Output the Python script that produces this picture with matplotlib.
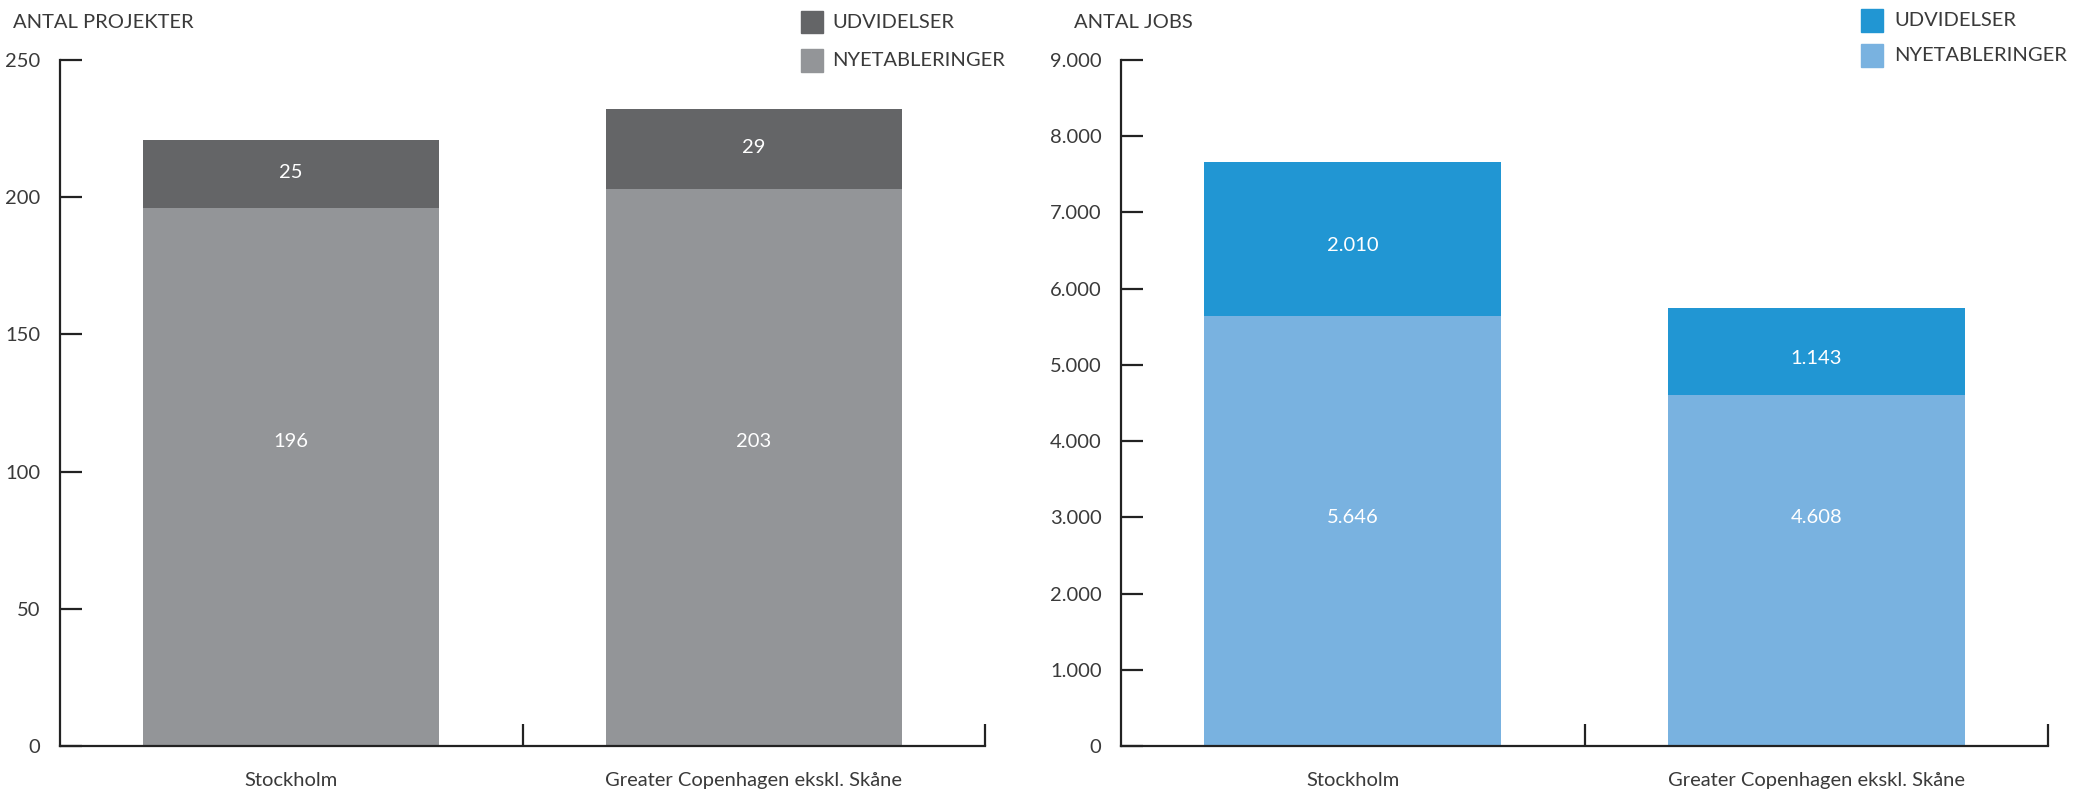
import numpy as np
import matplotlib
matplotlib.use("Agg")
import matplotlib.pyplot as plt
from matplotlib.patches import Rectangle
from matplotlib.ticker import FuncFormatter

plt.rcParams['font.family'] = ['Lato', 'DejaVu Sans']

# data
regions = ['Stockholm', 'Greater Copenhagen ekskl. Skåne']
proj_nye = [196, 203]
proj_udv = [25, 29]
jobs_nye = [5646, 4608]
jobs_udv = [2010, 1143]

txt_col = '#3a3a3a'
grey_dark = '#646567'
grey_light = '#939598'
blue_dark = '#2196d3'
blue_light = '#79b2e0'

W, H = 2074, 794
fig = plt.figure(figsize=(W / 100, H / 100), dpi=100)

def fx(px):
    return px / W

def fy(py):
    return 1 - py / H

def dk(v):
    return f"{int(v):,}".replace(',', '.')

def panel(left, right, nye, udv, c_dark, c_light, ymax, step, title, fmt,
          y_lab, top_shift):
    ax = fig.add_axes([fx(left), fy(746), fx(right - left), fy(60) - fy(746)])
    x = np.arange(len(regions))
    ax.bar(x, nye, width=0.64, color=c_light, linewidth=0)
    ax.bar(x, udv, width=0.64, bottom=nye, color=c_dark, linewidth=0)
    for i in range(len(regions)):
        # the lower labels sit at one common height in the original
        ax.text(x[i], y_lab, fmt(nye[i]), ha='center', va='center',
                color='white', fontsize=14.5)
        ax.text(x[i], nye[i] + udv[i] / 2 - top_shift, fmt(udv[i]),
                ha='center', va='center', color='white', fontsize=14.5)
    ax.set_xlim(-0.5, len(regions) - 0.5)
    ax.set_ylim(0, ymax)
    ax.set_yticks(np.arange(0, ymax + 1, step))
    ax.yaxis.set_major_formatter(FuncFormatter(lambda v, p: fmt(v)))
    ax.set_xticks(x)
    ax.set_xticklabels(regions)
    ax.set_xticks(np.arange(0.5, len(regions)), minor=True)
    ax.tick_params(axis='x', which='major', length=0, pad=19, labelsize=14.5,
                   labelcolor=txt_col)
    ax.tick_params(axis='x', which='minor', direction='in', length=16,
                   width=1.6, color='#222222')
    ax.tick_params(axis='y', direction='in', length=16, width=1.6,
                   color='#222222', pad=14, labelsize=14.5, labelcolor=txt_col)
    for s in ['top', 'right']:
        ax.spines[s].set_visible(False)
    for s in ['left', 'bottom']:
        ax.spines[s].set_linewidth(1.6)
        ax.spines[s].set_color('#222222')
    fig.text(fx(left - 47), fy(23), title, ha='left', va='center',
             fontsize=14.5, color=txt_col)
    return ax

panel(60, 985, proj_nye, proj_udv, grey_dark, grey_light, 250, 50,
      'ANTAL PROJEKTER', lambda v: str(int(v)), 111, -0.5)
panel(1121, 2048, jobs_nye, jobs_udv, blue_dark, blue_light, 9000, 1000,
      'ANTAL JOBS', dk, 3000, 90)

# legends
def legend(px, ys, cols, tx):
    for (y0, y1), c, lab in zip(ys, cols, ['UDVIDELSER', 'NYETABLERINGER']):
        fig.patches.append(Rectangle((fx(px), fy(y1)), fx(22), fy(y0) - fy(y1),
                                     transform=fig.transFigure, color=c))
        fig.text(fx(tx), fy((y0 + y1) / 2), lab, ha='left', va='center',
                 fontsize=14.5, color=txt_col)

legend(801, [(11, 33), (49, 72)], [grey_dark, grey_light], 832)
legend(1861, [(9, 32), (44, 67)], [blue_dark, blue_light], 1894)

fig.savefig('out.png', dpi=100)
